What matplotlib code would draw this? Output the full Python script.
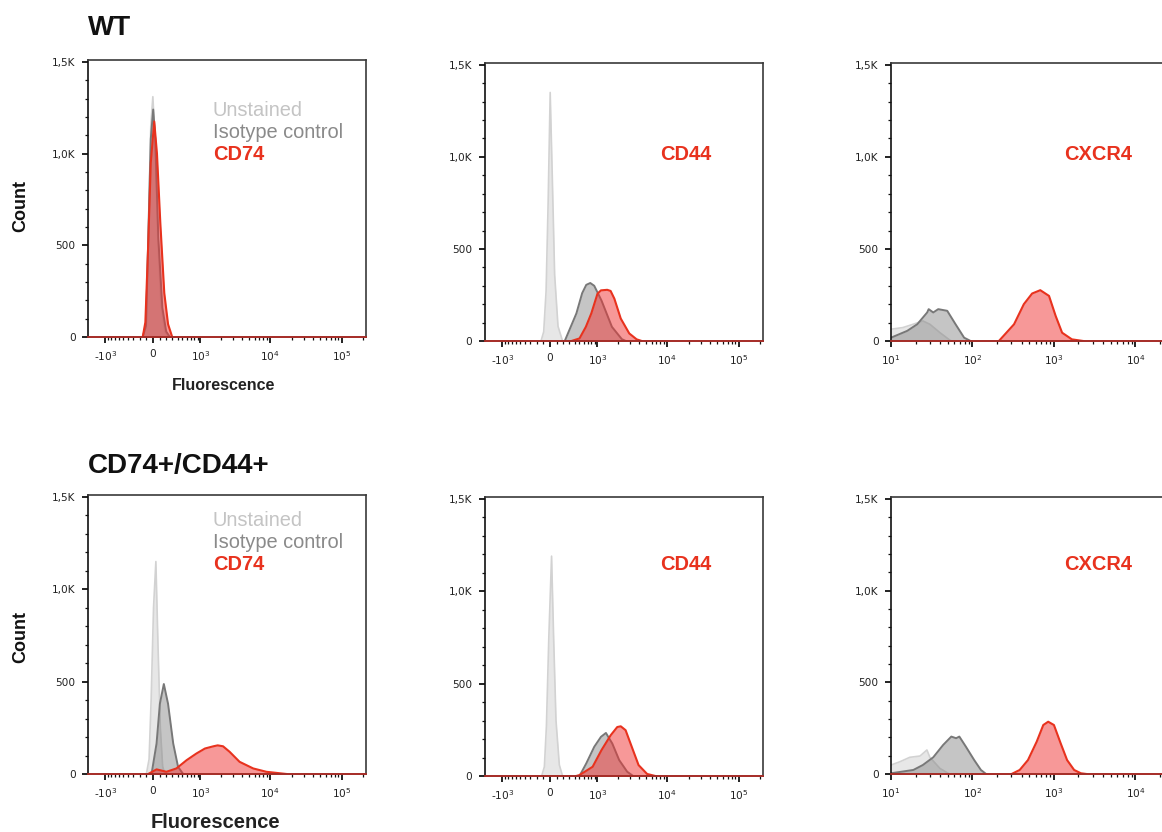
import matplotlib
matplotlib.use("Agg")
import matplotlib.pyplot as plt
from matplotlib.ticker import FixedLocator, NullFormatter

plt.rcParams['font.family'] = ['Liberation Sans', 'DejaVu Sans']
plt.rcParams['mathtext.fontset'] = 'dejavusans'

W, H = 1162, 832

RED = '#e8321e'
UNST_TXT = '#c4c4c4'
ISO_TXT = '#8a8a8a'

# ---- histogram outlines: (fluorescence, count) ----
# WT / CD74 (biexponential axis)
wt_cd74_unst_x = [-150, -100, -65, -30, 0, 30, 70, 120, 180, 240]
wt_cd74_unst_y = [0, 80, 600, 1150, 1310, 1100, 560, 170, 30, 0]
wt_cd74_iso_x = [-150, -100, -65, -30, 5, 35, 80, 140, 200, 260]
wt_cd74_iso_y = [0, 60, 560, 1080, 1240, 1080, 540, 160, 30, 0]
wt_cd74_red_x = [-150, -110, -70, -30, 20, 60, 110, 170, 230, 300]
wt_cd74_red_y = [0, 80, 480, 950, 1175, 1000, 620, 240, 70, 0]

# WT / CD44
wt_cd44_unst_x = [-130, -90, -55, -25, 5, 35, 70, 120, 190]
wt_cd44_unst_y = [0, 50, 270, 750, 1350, 900, 360, 80, 0]
wt_cd44_iso_x = [225, 435, 560, 660, 770, 890, 1150, 1640, 2280, 2600]
wt_cd44_iso_y = [0, 150, 260, 305, 315, 300, 220, 77, 10, 0]
wt_cd44_red_x = [340, 500, 650, 800, 1000, 1130, 1400, 1570, 1780, 2200, 2910, 3700, 4370]
wt_cd44_red_y = [0, 14, 77, 150, 257, 275, 278, 272, 230, 122, 41, 9, 0]

# WT / CXCR4 (log axis)
wt_cxcr4_unst_x = [10, 14, 18.7, 24.6, 30, 40, 53, 56]
wt_cxcr4_unst_y = [64, 73, 91, 109, 91, 45, 4, 0]
wt_cxcr4_iso_x = [10, 15.8, 21, 27.8, 29, 33, 38, 49, 62, 79, 95]
wt_cxcr4_iso_y = [18, 55, 91, 155, 173, 155, 173, 164, 91, 18, 0]
wt_cxcr4_red_x = [211, 324, 427, 540, 680, 870, 1050, 1260, 1660, 2290]
wt_cxcr4_red_y = [0, 91, 200, 258, 276, 245, 136, 45, 9, 0]

# CD74+/CD44+ / CD74
dp_cd74_unst_x = [-95, -55, -25, 10, 44, 75, 110, 145, 180]
dp_cd74_unst_y = [0, 80, 400, 900, 1150, 700, 250, 40, 0]
dp_cd74_iso_x = [-19, 54, 103, 163, 230, 318, 408, 515]
dp_cd74_iso_y = [0, 165, 380, 487, 380, 165, 39, 0]
dp_cd74_red_x = [-68, 54, 204, 376, 595, 865, 1170, 1560, 1800, 2150, 2670, 3690, 5750, 8800, 16900]
dp_cd74_red_y = [0, 25, 12, 30, 75, 111, 138, 150, 155, 150, 120, 66, 30, 12, 0]

# CD74+/CD44+ / CD44
dp_cd44_unst_x = [-120, -80, -50, -15, 25, 55, 90, 140, 190]
dp_cd44_unst_y = [0, 50, 270, 750, 1190, 750, 300, 60, 0]
dp_cd44_iso_x = [500, 660, 890, 1130, 1340, 1660, 2090, 2720, 3300]
dp_cd44_iso_y = [0, 68, 158, 212, 233, 176, 86, 23, 0]
dp_cd44_red_x = [430, 500, 840, 1150, 1570, 1960, 2200, 2580, 3220, 3940, 5200, 6800]
dp_cd44_red_y = [0, 5, 50, 140, 220, 265, 269, 248, 149, 59, 11, 0]

# CD74+/CD44+ / CXCR4
dp_cxcr4_unst_x = [10, 12.9, 17, 22.7, 27.6, 30, 40, 52]
dp_cxcr4_unst_y = [49, 67, 91, 98, 131, 91, 30, 0]
dp_cxcr4_iso_x = [10, 18.8, 24.6, 33, 43.6, 55, 63, 69, 83, 105, 127, 147]
dp_cxcr4_iso_y = [4, 22, 49, 91, 158, 204, 195, 204, 149, 76, 22, 0]
dp_cxcr4_red_x = [302, 380, 480, 614, 740, 850, 1000, 1210, 1450, 1770, 2140, 2510]
dp_cxcr4_red_y = [0, 22, 76, 176, 267, 285, 267, 167, 76, 22, 4, 0]

y_ticks = [0, 500, 1000, 1500]
y_labels = ['0', '500', '1,0K', '1,5K']
biex_ticks = [-1000, 0, 1000, 10000, 100000]
biex_labels = [r'-$10^3$', '0', r'$10^3$', r'$10^4$', r'$10^5$']
log_ticks = [10, 100, 1000, 10000]
log_labels = [r'$10^1$', r'$10^2$', r'$10^3$', r'$10^4$']

fig = plt.figure(figsize=(W / 100, H / 100), dpi=100)


def make_ax(x0, y0, x1, y1):
    # pixel box -> figure fraction
    return fig.add_axes([x0 / W, 1 - y1 / H, (x1 - x0) / W, (y1 - y0) / H])


def style(ax, kind):
    ax.set_ylim(0, 1510)
    ax.set_yticks(y_ticks)
    ax.set_yticklabels(y_labels)
    ax.yaxis.set_minor_locator(FixedLocator(range(0, 1501, 100)))
    if kind == 'biex':
        ax.set_xscale('asinh', linear_width=450)
        ax.set_xlim(-1800, 2.2e5)
        ax.xaxis.set_major_locator(FixedLocator(biex_ticks))
        ax.set_xticklabels(biex_labels)
        minors = [-k * 100 for k in range(1, 10)] + [k * 100 for k in range(1, 10)]
        minors += [k * 1000 for k in range(2, 10)] + [k * 10000 for k in range(2, 10)]
        minors += [200000]
    else:
        ax.set_xscale('log')
        ax.set_xlim(10, 10 ** 4.4)
        ax.xaxis.set_major_locator(FixedLocator(log_ticks))
        ax.set_xticklabels(log_labels)
        minors = [k * 10 ** e for e in range(1, 5) for k in range(2, 10)]
    ax.xaxis.set_minor_locator(FixedLocator(minors))
    ax.xaxis.set_minor_formatter(NullFormatter())
    ax.tick_params(which='major', direction='out', length=4.5, width=1.3,
                   labelsize=7.6, pad=4.5, color='#111')
    ax.tick_params(which='minor', direction='out', length=2.3, width=0.9, color='#111')
    for lab in ax.get_xticklabels() + ax.get_yticklabels():
        lab.set_family('DejaVu Sans')
        lab.set_color('#222')
    for sp in ax.spines.values():
        sp.set_color('#3a3a3a')
        sp.set_linewidth(1.2)
    ax.spines['left'].set_color('#111')
    ax.spines['bottom'].set_color('#111')


def draw(ax, ux, uy, ix, iy, rx, ry):
    ax.fill_between(ux, uy, color='#e7e7e7', lw=0, zorder=1)
    ax.plot(ux, uy, color='#d2d2d2', lw=1.2, zorder=1.1)
    ax.fill_between(ix, iy, color='#808080', alpha=0.45, lw=0, zorder=1.2)
    ax.plot(ix, iy, color='#787878', lw=1.4, zorder=1.3)
    ax.fill_between(rx, ry, color='#f03232', alpha=0.5, lw=0, zorder=1.4)
    ax.plot(rx, ry, color=RED, lw=1.5, zorder=1.5)
    ax.axhline(0, color='#b3302a', lw=1.3, zorder=3, clip_on=False)


panels = [
    ((88, 60, 366, 337), 'biex', (wt_cd74_unst_x, wt_cd74_unst_y, wt_cd74_iso_x, wt_cd74_iso_y, wt_cd74_red_x, wt_cd74_red_y)),
    ((485, 63, 763, 341), 'biex', (wt_cd44_unst_x, wt_cd44_unst_y, wt_cd44_iso_x, wt_cd44_iso_y, wt_cd44_red_x, wt_cd44_red_y)),
    ((891, 63, 1168, 341), 'log', (wt_cxcr4_unst_x, wt_cxcr4_unst_y, wt_cxcr4_iso_x, wt_cxcr4_iso_y, wt_cxcr4_red_x, wt_cxcr4_red_y)),
    ((88, 495, 366, 774), 'biex', (dp_cd74_unst_x, dp_cd74_unst_y, dp_cd74_iso_x, dp_cd74_iso_y, dp_cd74_red_x, dp_cd74_red_y)),
    ((485, 497, 763, 776), 'biex', (dp_cd44_unst_x, dp_cd44_unst_y, dp_cd44_iso_x, dp_cd44_iso_y, dp_cd44_red_x, dp_cd44_red_y)),
    ((891, 497, 1168, 774), 'log', (dp_cxcr4_unst_x, dp_cxcr4_unst_y, dp_cxcr4_iso_x, dp_cxcr4_iso_y, dp_cxcr4_red_x, dp_cxcr4_red_y)),
]

axes = []
for box, kind, curves in panels:
    ax = make_ax(*box)
    style(ax, kind)
    draw(ax, *curves)
    axes.append(ax)


def ftext(x, y, s, **kw):
    fig.text(x / W, 1 - y / H, s, **kw)


# row titles, axis titles
ftext(88, 28, 'WT', fontsize=20, fontweight='bold', va='center', color='#111')
ftext(88, 466, 'CD74+/CD44+', fontsize=20, fontweight='bold', va='center', color='#111')
ftext(21, 206, 'Count', fontsize=13, fontweight='bold', rotation=90, ha='center', va='center', color='#111')
ftext(21, 637, 'Count', fontsize=13, fontweight='bold', rotation=90, ha='center', va='center', color='#111')
ftext(224, 386, 'Fluorescence', fontsize=11.5, fontweight='bold', ha='center', va='center', color='#222')
ftext(215, 822, 'Fluorescence', fontsize=14.5, fontweight='bold', ha='center', va='center', color='#222')

# legends inside first column
for y0 in (110, 520):
    ftext(213, y0, 'Unstained', fontsize=14.4, color=UNST_TXT, va='center')
    ftext(213, y0 + 22.5, 'Isotype control', fontsize=14.4, color=ISO_TXT, va='center')
    ftext(213, y0 + 45, 'CD74', fontsize=14.4, fontweight='bold', color=RED, va='center')

for y0 in (155, 565):
    ftext(686, y0, 'CD44', fontsize=14.4, fontweight='bold', color=RED, ha='center', va='center')
    ftext(1098, y0, 'CXCR4', fontsize=14.4, fontweight='bold', color=RED, ha='center', va='center')

fig.savefig('out.png', dpi=100)
